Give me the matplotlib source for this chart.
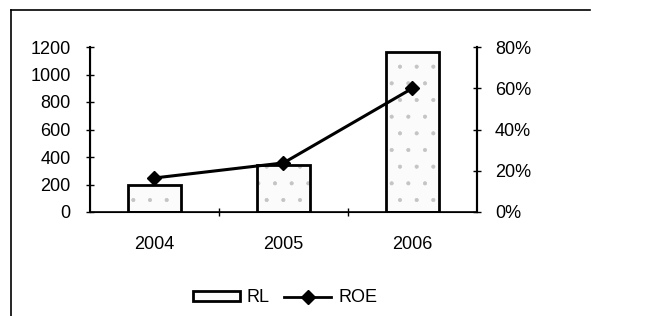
import matplotlib
matplotlib.use("Agg")
import matplotlib as mpl
import matplotlib.pyplot as plt
from matplotlib.lines import Line2D
from matplotlib.patches import Patch

years = ["2004", "2005", "2006"]
rl = [198, 342, 1162]
roe = [16.5, 23.8, 60]  # percent
left_ticks = [0, 200, 400, 600, 800, 1000, 1200]
right_ticks = [0, 20, 40, 60, 80]

plt.rcParams['font.family'] = ['Liberation Sans', 'DejaVu Sans']
plt.rcParams['font.size'] = 13
mpl.rcParams['hatch.linewidth'] = 0.5

fig = plt.figure(figsize=(6.72, 3.16), dpi=100)
ax = fig.add_axes([90/672, 1-212/316, (477-90)/672, (212-47)/316])
x = list(range(len(years)))
# speckled fill
ax.bar(x, rl, width=0.41, facecolor='#fbfbfb', edgecolor='#c4c4c4', linewidth=0, hatch='.', zorder=2)
# outline
ax.bar(x, rl, width=0.41, facecolor='none', edgecolor='black', linewidth=2, zorder=2.1)
ax.set_xlim(-0.5, 2.5)
ax.set_ylim(0, 1200)
ax.set_yticks(left_ticks)
ax.set_xticks(x)
ax.set_xticklabels(years)
ax.set_xticks([0.5, 1.5], minor=True)
ax.tick_params(axis='x', which='major', length=0, pad=17)
ax.tick_params(axis='x', which='minor', length=6, direction='inout', width=1)
ax.tick_params(axis='y', length=6, direction='inout', width=1, pad=11)
ax.spines['top'].set_visible(False)
ax.spines['left'].set_linewidth(1.5)
ax.spines['right'].set_linewidth(1.5)
ax.spines['bottom'].set_linewidth(1.2)

ax2 = ax.twinx()
ax2.plot(x, [v/100 for v in roe], color='black', linewidth=2.2, marker='D', markersize=7, zorder=3)
ax2.set_ylim(0, 0.8)
ax2.set_yticks([v/100 for v in right_ticks])
ax2.set_yticklabels([f"{v}%" for v in right_ticks])
ax2.tick_params(axis='y', length=6, direction='inout', width=1, pad=10)
ax2.spines['top'].set_visible(False)
ax2.spines['right'].set_linewidth(1.5)

handles = [Patch(facecolor='#fbfbfb', edgecolor='black', linewidth=2),
           Line2D([0], [0], color='black', linewidth=2, marker='D', markersize=7)]
fig.legend(handles, ['RL', 'ROE'], loc='center', bbox_to_anchor=(285/672, 1-298/316),
           ncol=2, frameon=False, handlelength=2.6, handleheight=0.45,
           handletextpad=0.4, columnspacing=0.8)

fig.add_artist(Line2D([11/672, 11/672], [0, 1-10/316], color='black', linewidth=1.2, transform=fig.transFigure))
fig.add_artist(Line2D([11/672, 590/672], [1-10/316, 1-10/316], color='black', linewidth=1.2, transform=fig.transFigure))

fig.savefig("out.png", dpi=100)
